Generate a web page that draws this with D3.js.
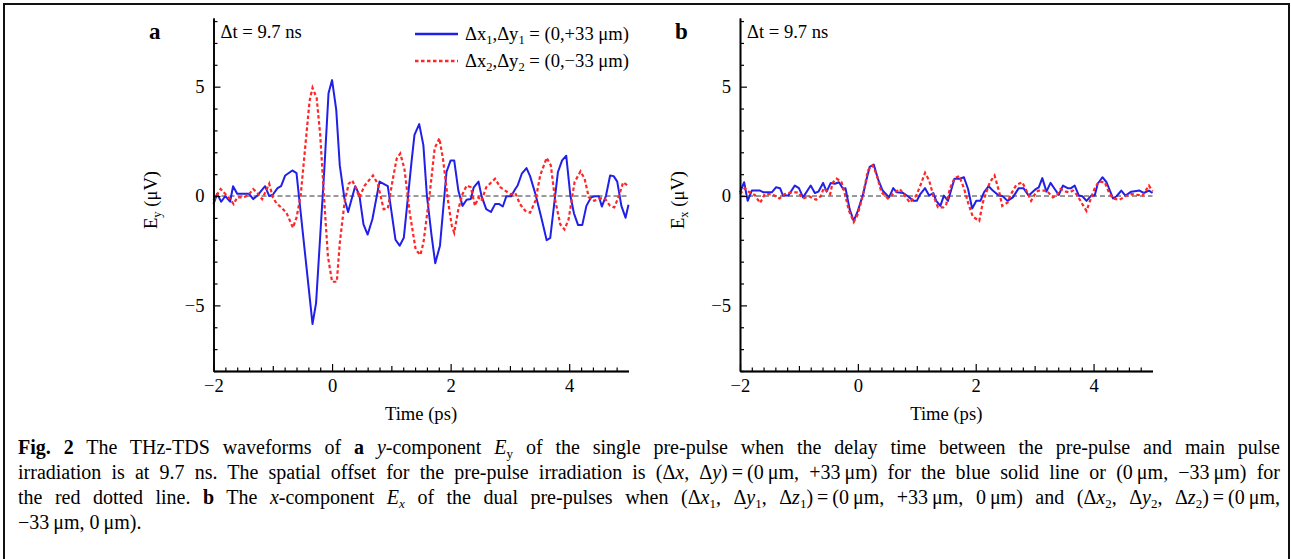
<!DOCTYPE html>
<html>
<head>
<meta charset="utf-8">
<script src="https://cdn.jsdelivr.net/npm/d3@7"></script>
<style>
  body { margin: 0; background: #fff; }
  #wrap { position: relative; width: 1291px; height: 559px; overflow: hidden; background: #fff; }
  svg { position: absolute; left: 0; top: 0; }
  .cap { position: absolute; left: 18px; font-family: "Liberation Serif", "Times New Roman", serif;
         font-size: 20px; line-height: 25px; white-space: nowrap; color: #000; }
  .cap sub { font-size: 13px; line-height: 0; vertical-align: -4px; }
  svg text { font-family: "Liberation Serif", "Times New Roman", serif; fill: #000; }
</style>
</head>
<body>
<div id="wrap">
  <svg id="chart" width="1291" height="559"></svg>
</div>
<script>

// tick labels and axis extents
const xTicks = [-2, 0, 2, 4];
const yTicks = [-5, 0, 5];
const xDomain = [-2, 5];
const yDomain = [-8, 8.14];

// panel a, blue solid: (dx1, dy1) = (0, +33 um)   [time ps, E uV]
const aBlue = [[-2.0,-0.37],[-1.94,0.1],[-1.87,-0.26],[-1.80,0],[-1.72,-0.26],[-1.67,0.45],[-1.60,0.1],
  [-1.40,0.1],[-1.33,-0.14],[-1.26,0.02],[-1.13,0.45],[-1.06,0],[-1.00,0.06],[-0.92,0.36],[-0.86,0.45],
  [-0.79,0.94],[-0.67,1.17],[-0.60,1.05],[-0.33,-5.85],[-0.27,-4.9],[-0.13,1.25],[-0.06,4.7],[0.0,5.3],
  [0.07,3.95],[0.13,1.4],[0.21,-0.14],[0.27,-0.73],[0.39,0.45],[0.46,0.05],[0.53,-1.3],[0.60,-1.76],
  [0.68,-1.06],[0.80,0.66],[0.94,0.45],[1.07,-2.0],[1.14,-2.27],[1.21,-1.91],[1.34,1.56],[1.39,2.8],
  [1.47,3.29],[1.54,2.33],[1.60,0.01],[1.68,-1.84],[1.74,-3.07],[1.82,-2.27],[1.93,1.1],[2.00,1.63],
  [2.06,1.63],[2.13,0.25],[2.20,-0.45],[2.27,-0.17],[2.34,-0.14],[2.39,0.4],[2.47,0.66],[2.52,0.01],
  [2.60,-0.6],[2.68,-0.73],[2.75,-0.37],[2.82,-0.37],[2.88,-0.48],[2.94,-0.01],[3.02,-0.01],[3.09,0.32],
  [3.13,0.48],[3.20,1.02],[3.28,1.28],[3.34,0.91],[3.43,0.09],[3.53,-0.99],[3.62,-2.02],[3.68,-1.91],
  [3.81,1.1],[3.88,1.63],[3.95,1.84],[4.02,0.01],[4.08,-0.79],[4.15,-1.33],[4.22,-1.33],[4.29,-0.45],
  [4.37,-0.06],[4.43,-0.01],[4.50,-0.01],[4.55,-0.48],[4.62,0.01],[4.69,0.94],[4.75,0.91],[4.81,0.66],
  [4.88,-0.45],[4.95,-0.99],[5.0,-0.4]];

// panel a, red dotted: (dx2, dy2) = (0, -33 um)
const aRed = [[-2.0,-0.2],[-1.88,0.32],[-1.80,0.09],[-1.72,-0.14],[-1.66,-0.37],[-1.60,-0.06],[-1.49,-0.06],
  [-1.41,0.05],[-1.33,0.32],[-1.26,0.14],[-1.18,-0.14],[-1.06,0.56],[-1.00,-0.06],[-0.94,-0.32],[-0.86,-0.52],
  [-0.77,-0.76],[-0.66,-1.45],[-0.60,-0.99],[-0.53,0.01],[-0.45,2.33],[-0.38,4.34],[-0.33,4.95],[-0.26,4.49],
  [-0.20,2.79],[-0.13,-0.3],[-0.07,-2.76],[0.0,-3.92],[0.08,-3.92],[0.13,-2.15],[0.21,-0.3],[0.28,0.56],
  [0.34,0.71],[0.41,0.32],[0.46,-0.06],[0.55,0.48],[0.69,0.94],[0.77,0.56],[0.87,-0.6],[0.94,-0.57],
  [1.02,0.71],[1.09,1.71],[1.15,1.94],[1.22,1.25],[1.31,-0.76],[1.41,-2.45],[1.49,-2.69],[1.54,-2.15],
  [1.65,0.17],[1.73,2.18],[1.81,2.64],[1.87,1.71],[1.96,-0.3],[2.02,-1.37],[2.06,-1.68],[2.13,-0.6],
  [2.20,0.09],[2.27,0.48],[2.34,0.4],[2.41,-0.45],[2.47,-0.06],[2.52,-0.22],[2.60,0.4],[2.75,0.79],
  [2.84,0.4],[2.92,0.25],[3.01,0.09],[3.09,0.14],[3.17,-0.37],[3.26,-0.68],[3.34,-0.76],[3.43,-0.22],
  [3.51,0.94],[3.62,1.75],[3.69,1.4],[3.76,-0.14],[3.85,-1.3],[3.92,-1.53],[3.99,-1.06],[4.09,0.63],
  [4.19,1.13],[4.26,0.79],[4.33,-0.06],[4.42,-0.22],[4.52,-0.11],[4.60,-0.11],[4.69,-0.45],[4.76,-0.52],
  [4.84,0.01],[4.91,0.63],[5.0,0.45]];

// panel b, blue solid
const bBlue = [[-2.0,0.17],[-1.93,0.63],[-1.87,-0.22],[-1.80,0.25],[-1.66,0.25],[-1.60,0.17],[-1.46,0.17],
  [-1.39,0.4],[-1.32,0.36],[-1.27,0.02],[-1.18,0.02],[-1.07,0.48],[-1.00,0.36],[-0.93,-0.06],[-0.80,0.48],
  [-0.73,0.14],[-0.67,0.2],[-0.59,0.6],[-0.53,0.2],[-0.46,0.6],[-0.39,0.56],[-0.32,0.63],[-0.25,0.32],
  [-0.21,0.36],[-0.14,-0.6],[-0.07,-1.14],[0.0,-0.68],[0.09,0.09],[0.15,0.79],[0.20,1.33],[0.27,1.44],
  [0.34,0.79],[0.42,0.25],[0.53,-0.06],[0.60,0.36],[0.66,0.17],[0.77,0.14],[0.85,-0.01],[0.94,-0.22],
  [1.00,-0.22],[1.06,0.09],[1.14,0.36],[1.21,0.02],[1.28,0.14],[1.33,-0.22],[1.40,-0.45],[1.46,0.02],
  [1.53,-0.22],[1.64,0.79],[1.73,0.79],[1.80,0.86],[1.87,0.32],[1.94,-0.57],[2.01,-0.22],[2.08,-0.22],
  [2.14,0.17],[2.22,0.45],[2.29,0.25],[2.38,0.05],[2.46,-0.01],[2.54,-0.22],[2.63,-0.06],[2.73,0.36],
  [2.81,0.36],[2.90,0.02],[3.02,0.32],[3.07,0.4],[3.13,0.82],[3.20,0.2],[3.27,0.6],[3.34,0.32],
  [3.41,0.05],[3.48,0.48],[3.56,0.36],[3.62,0.36],[3.68,0.48],[3.75,0.02],[3.81,-0.01],[3.88,-0.22],
  [3.96,0.02],[4.02,0.02],[4.07,0.56],[4.15,0.86],[4.22,0.63],[4.33,-0.11],[4.39,-0.01],[4.47,0.25],
  [4.54,0.02],[4.64,0.2],[4.78,0.25],[4.85,0.14],[4.94,0.25],[5.0,0.14]];

// panel b, red dotted
const bRed = [[-2.0,0.09],[-1.92,0.36],[-1.84,0.17],[-1.75,0.05],[-1.66,-0.32],[-1.58,0.09],[-1.46,0.09],
  [-1.33,-0.11],[-1.24,0.09],[-1.12,0.17],[-1.01,0.17],[-0.93,-0.11],[-0.83,-0.01],[-0.71,-0.17],[-0.63,-0.01],
  [-0.58,0.36],[-0.47,0.09],[-0.43,0.6],[-0.36,0.79],[-0.28,0.66],[-0.22,0.09],[-0.15,-0.68],[-0.07,-1.19],
  [0.0,-0.83],[0.09,0.09],[0.17,1.17],[0.25,1.4],[0.32,0.97],[0.40,0.17],[0.51,-0.11],[0.63,0.17],
  [0.71,0.32],[0.78,0.09],[0.88,-0.3],[0.99,0.02],[1.06,0.48],[1.14,1.06],[1.21,0.71],[1.28,0.02],
  [1.36,-0.52],[1.45,-0.52],[1.50,-0.37],[1.56,0.32],[1.64,0.82],[1.72,0.91],[1.80,0.36],[1.87,-0.3],
  [1.95,-0.94],[2.06,-1.14],[2.12,-0.3],[2.24,0.63],[2.32,0.94],[2.40,0.17],[2.45,-0.45],[2.54,-0.3],
  [2.59,0.05],[2.69,0.51],[2.79,0.63],[2.87,0.2],[2.94,-0.22],[3.03,0.2],[3.08,0.25],[3.20,0.25],
  [3.31,-0.06],[3.38,0.05],[3.44,0.32],[3.53,0.2],[3.59,0.17],[3.65,0.25],[3.72,0.05],[3.81,-0.37],
  [3.88,-0.68],[3.95,-0.14],[4.02,0.36],[4.09,0.66],[4.19,0.63],[4.26,0.17],[4.33,-0.11],[4.44,-0.17],
  [4.54,-0.01],[4.64,0.09],[4.75,0.05],[4.83,0.02],[4.94,0.48],[5.0,0.2]];

const blueColor = '#2020e8';
const redColor = '#ff2626';
const fs = 18.6;

const svg = d3.select('#chart');
const fmt = d => d < 0 ? '\u2212' + Math.abs(d) : String(d);

// outer frame
svg.append('rect')
  .attr('x', 4).attr('y', 4)
  .attr('width', 1285).attr('height', 620)
  .attr('fill', 'none').attr('stroke', '#111').attr('stroke-width', 2);

const panels = [
  { letter: 'a', left: 213.5, right: 628.5, comp: 'y', blue: aBlue, red: aRed, legend: true, letterX: 149, ylabX: 157 },
  { letter: 'b', left: 740, right: 1152.5, comp: 'x', blue: bBlue, red: bRed, legend: false, letterX: 675, ylabX: 684 }
];

const plotBottom = 371, plotTop = 18;

panels.forEach(p => {
  const g = svg.append('g');
  const x = d3.scaleLinear().domain(xDomain).range([p.left, p.right]);
  const y = d3.scaleLinear().domain(yDomain).range([plotBottom, plotTop]);

  // zero reference
  g.append('line')
    .attr('x1', x(xDomain[0])).attr('x2', x(xDomain[1]))
    .attr('y1', y(0)).attr('y2', y(0))
    .attr('stroke', '#333').attr('stroke-width', 1).attr('stroke-dasharray', '5,3');

  const line = d3.line().x(d => x(d[0])).y(d => y(d[1]));

  g.append('path').datum(p.blue)
    .attr('d', line).attr('fill', 'none')
    .attr('stroke', blueColor).attr('stroke-width', 2).attr('stroke-linejoin', 'round');

  g.append('path').datum(p.red)
    .attr('d', line).attr('fill', 'none')
    .attr('stroke', redColor).attr('stroke-width', 2.2).attr('stroke-dasharray', '3.5,2.5');

  // x axis
  const minorX = d3.range(-20, 51, 2).map(v => v / 10).filter(v => !Number.isInteger(v));
  const oddX = d3.range(-1, 5, 2);
  g.append('g').attr('transform', `translate(0,${plotBottom})`)
    .call(d3.axisBottom(x).tickValues(minorX).tickSizeInner(-3.5).tickSizeOuter(0).tickFormat(''));
  g.append('g').attr('transform', `translate(0,${plotBottom})`)
    .call(d3.axisBottom(x).tickValues(oddX).tickSizeInner(-5).tickSizeOuter(0).tickFormat(''));
  g.append('g').attr('class', 'xmajor').attr('transform', `translate(0,${plotBottom})`)
    .call(d3.axisBottom(x).tickValues(xTicks).tickSizeInner(-7).tickSizeOuter(0).tickPadding(8).tickFormat(fmt));

  // y axis
  const minorY = d3.range(-8, 9).filter(v => v % 5 !== 0);
  g.append('g').attr('transform', `translate(${p.left},0)`)
    .call(d3.axisLeft(y).tickValues(minorY).tickSizeInner(-4).tickSizeOuter(0).tickFormat(''));
  g.append('g').attr('class', 'ymajor').attr('transform', `translate(${p.left},0)`)
    .call(d3.axisLeft(y).tickValues(yTicks).tickSizeInner(-7).tickSizeOuter(0).tickPadding(9).tickFormat(fmt));

  g.selectAll('.domain').attr('stroke', '#000').attr('stroke-width', 1.6);
  g.selectAll('.tick line').attr('stroke', '#000').attr('stroke-width', 1.2);
  g.selectAll('.tick text').attr('font-size', fs).attr('font-family', '"Liberation Serif", serif').attr('fill', '#000');

  // panel letter
  g.append('text').attr('x', p.letterX).attr('y', 39)
    .attr('font-size', 23).attr('font-weight', 'bold').text(p.letter);

  g.append('text').attr('x', p.left + 7).attr('y', 38)
    .attr('font-size', fs).text('\u0394t = 9.7 ns');

  // axis titles
  g.append('text').attr('x', (p.left + p.right) / 2).attr('y', 420)
    .attr('text-anchor', 'middle').attr('font-size', fs).text('Time (ps)');

  const yl = g.append('text')
    .attr('transform', `translate(${p.ylabX},200) rotate(-90)`)
    .attr('text-anchor', 'middle').attr('font-size', fs);
  yl.append('tspan').text('E');
  yl.append('tspan').attr('font-size', 12.5).attr('dy', 4).text(p.comp);
  yl.append('tspan').attr('dy', -4).text(' (\u03bcV)');

  if (p.legend) {
    const items = [
      { color: blueColor, dash: null, n: '1', sign: '+', y: 34 },
      { color: redColor, dash: '3.5,2.5', n: '2', sign: '\u2212', y: 61 }
    ];
    items.forEach(it => {
      g.append('line').attr('x1', 415).attr('x2', 458).attr('y1', it.y).attr('y2', it.y)
        .attr('stroke', it.color).attr('stroke-width', 2.4)
        .attr('stroke-dasharray', it.dash);
      const t = g.append('text').attr('x', 465).attr('y', it.y + 6).attr('font-size', fs);
      t.append('tspan').text('\u0394x');
      t.append('tspan').attr('font-size', 12.5).attr('dy', 4).text(it.n);
      t.append('tspan').attr('dy', -4).text(',\u0394y');
      t.append('tspan').attr('font-size', 12.5).attr('dy', 4).text(it.n);
      t.append('tspan').attr('dy', -4).text(' = (0,' + it.sign + '33 \u03bcm)');
    });
  }
});

// caption, one div per printed line, justified to the column width
const capLines = [
  '<b>Fig. 2</b> The THz-TDS waveforms of <b>a</b> <i>y</i>-component <i>E</i><sub>y</sub> of the single pre-pulse when the delay time between the pre-pulse and main pulse',
  'irradiation is at 9.7 ns. The spatial offset for the pre-pulse irradiation is (\u0394<i>x</i>, \u0394<i>y</i>)\u2009=\u2009(0\u2009\u03bcm, +33\u2009\u03bcm) for the blue solid line or (0\u2009\u03bcm, \u221233\u2009\u03bcm) for',
  'the red dotted line. <b>b</b> The <i>x</i>-component <i>E<sub>x</sub></i> of the dual pre-pulses when (\u0394<i>x</i><sub>1</sub>, \u0394<i>y</i><sub>1</sub>, \u0394<i>z</i><sub>1</sub>)\u2009=\u2009(0\u2009\u03bcm, +33\u2009\u03bcm, 0\u2009\u03bcm) and (\u0394<i>x</i><sub>2</sub>, \u0394<i>y</i><sub>2</sub>, \u0394<i>z</i><sub>2</sub>)\u2009=\u2009(0\u2009\u03bcm,',
  '\u221233\u2009\u03bcm, 0\u2009\u03bcm).'
];
const capLeft = 18, capRight = 1280, capTop = 435;

const wrap = d3.select('#wrap');
capLines.forEach((html, i) => {
  const div = wrap.append('div').attr('class', 'cap')
    .style('top', (capTop + i * 25) + 'px')
    .html(html);
  if (i < capLines.length - 1) {
    const node = div.node();
    const w = node.getBoundingClientRect().width;
    const spaces = (node.textContent.match(/ /g) || []).length;
    if (spaces) div.style('word-spacing', ((capRight - capLeft - w) / spaces) + 'px');
  }
});

</script>
</body>
</html>
